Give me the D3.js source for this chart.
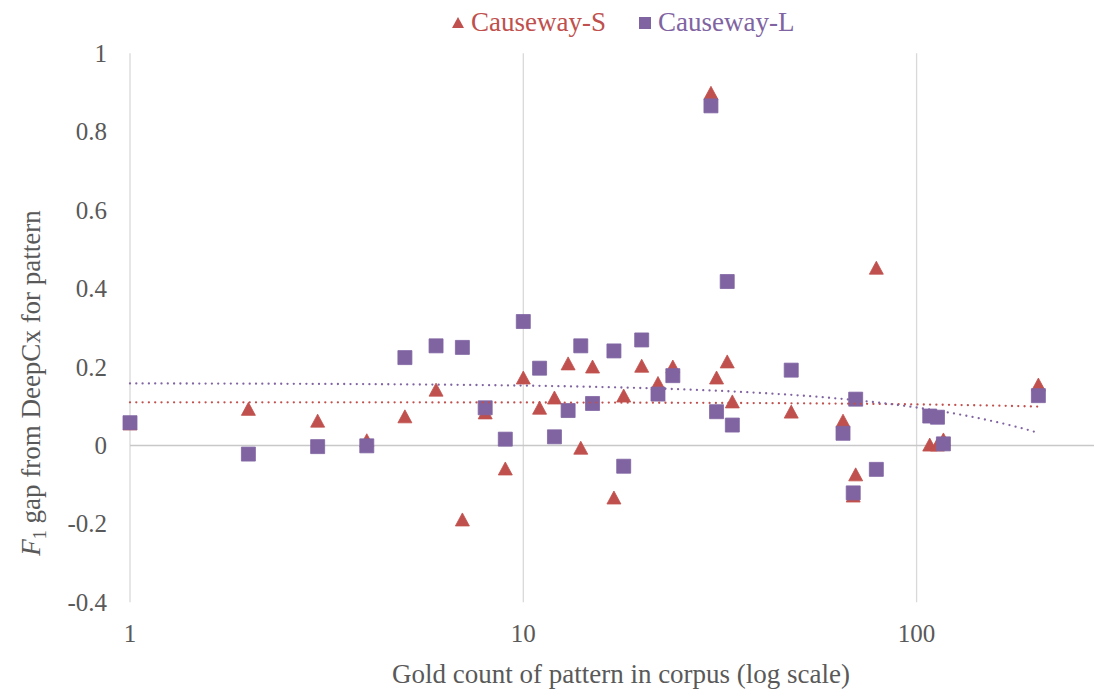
<!DOCTYPE html>
<html>
<head>
<meta charset="utf-8">
<script src="https://cdn.jsdelivr.net/npm/d3@7"></script>
<style>
  body { margin: 0; background: #fff; }
  svg text { font-family: "Liberation Serif", "Times New Roman", serif; fill: #595959; }
</style>
</head>
<body>
<div id="container"></div>
<script>
// gold counts (x) and F1 gaps (y)
var countsS = [1, 2, 3, 4, 5, 6, 7, 8, 9, 10, 11, 12, 13, 14, 15, 17, 18, 20, 22, 24,
               30, 31, 33, 34, 48, 65, 69, 70, 79, 108, 113, 117, 204];
var gapsS = [0.055, 0.092, 0.062, 0.012, 0.073, 0.141, -0.19, 0.083, -0.06, 0.172, 0.095, 0.121,
             0.208, -0.007, 0.2, -0.134, 0.126, 0.202, 0.158, 0.2,
             0.898, 0.172, 0.213, 0.111, 0.085, 0.062, -0.129, -0.075, 0.452, 0.001, 0.001, 0.014, 0.154];

var countsL = [1, 2, 3, 4, 5, 6, 7, 8, 9, 10, 11, 12, 13, 14, 15, 17, 18, 20, 22, 24,
               30, 31, 33, 34, 48, 65, 69, 70, 79, 108, 113, 117, 204];
var gapsL = [0.058, -0.022, -0.003, -0.001, 0.224, 0.254, 0.25, 0.096, 0.016, 0.316, 0.197, 0.022,
             0.089, 0.254, 0.107, 0.241, -0.053, 0.269, 0.131, 0.178,
             0.866, 0.086, 0.418, 0.052, 0.192, 0.031, -0.121, 0.118, -0.061, 0.075, 0.072, 0.004, 0.127];

var seriesNames = ["Causeway-S", "Causeway-L"];
var seriesColors = ["#C0504D", "#8064A2"];
var xTicks = [1, 10, 100];
var yTicks = [-0.4, -0.2, 0, 0.2, 0.4, 0.6, 0.8, 1];

var width = 1094, height = 689;

var svg = d3.select("#container")
  .append("svg")
  .attr("width", width)
  .attr("height", height);

// one decade is ~393px; the reference is cut off at the right edge
var x = d3.scaleLog().domain([1, 1000]).range([130, 130 + 3 * 393.3]);
var y = d3.scaleLinear().domain([-0.4, 1]).range([602.3, 53.3]);

// vertical gridlines
svg.append("g")
  .selectAll("line")
  .data(xTicks)
  .join("line")
  .attr("x1", function (d) { return x(d); })
  .attr("x2", function (d) { return x(d); })
  .attr("y1", y(1))
  .attr("y2", y(-0.4))
  .attr("stroke", "#d9d9d9")
  .attr("stroke-width", 1.3);

// horizontal axis at zero
svg.append("line")
  .attr("x1", x(1))
  .attr("x2", width)
  .attr("y1", y(0))
  .attr("y2", y(0))
  .attr("stroke", "#c8c8c8")
  .attr("stroke-width", 1.5);

// tick labels
svg.append("g")
  .selectAll("text")
  .data(yTicks)
  .join("text")
  .attr("x", 107)
  .attr("y", function (d) { return y(d) + 8.5; })
  .attr("text-anchor", "end")
  .style("font-size", "25px")
  .text(function (d) { return String(d); });

svg.append("g")
  .selectAll("text")
  .data(xTicks)
  .join("text")
  .attr("x", function (d) { return x(d); })
  .attr("y", 642)
  .attr("text-anchor", "middle")
  .style("font-size", "25px")
  .text(function (d) { return d; });

// axis titles
svg.append("text")
  .attr("x", 621)
  .attr("y", 683)
  .attr("text-anchor", "middle")
  .style("font-size", "27px")
  .text("Gold count of pattern in corpus (log scale)");

var yTitle = svg.append("text")
  .attr("transform", "translate(40,383) rotate(-90)")
  .attr("text-anchor", "middle")
  .style("font-size", "27px");
yTitle.append("tspan").style("font-style", "italic").text("F");
yTitle.append("tspan").attr("dy", 6).style("font-size", "18px").text("1");
yTitle.append("tspan").attr("dy", -6).text(" gap from DeepCx for pattern");

// linear (not log) least-squares trendlines, as in the spreadsheet
function linearFit(xs, ys) {
  var mx = d3.mean(xs), my = d3.mean(ys);
  var sxy = d3.sum(xs, function (v, i) { return (v - mx) * (ys[i] - my); });
  var sxx = d3.sum(xs, function (v) { return (v - mx) * (v - mx); });
  var b = sxy / sxx;
  return { a: my - b * mx, b: b };
}

var trendLine = d3.line()
  .x(function (d) { return x(d[0]); })
  .y(function (d) { return y(d[1]); });

function drawTrend(xs, ys, color) {
  var fit = linearFit(xs, ys);
  var lo = d3.min(xs), hi = d3.max(xs);
  var pts = d3.range(0, 101).map(function (i) {
    var v = lo * Math.pow(hi / lo, i / 100);
    return [v, fit.a + fit.b * v];
  });
  svg.append("path")
    .attr("d", trendLine(pts))
    .attr("fill", "none")
    .attr("stroke", color)
    .attr("stroke-width", 2.3)
    .attr("stroke-linecap", "round")
    .attr("stroke-dasharray", "0,6.3");
}

var triangle = "M0,-7L7,6L-7,6Z";
var square = "M-7,-7H7V7H-7Z";

function drawPoints(xs, ys, shape, color) {
  svg.append("g")
    .selectAll("path")
    .data(d3.zip(xs, ys))
    .join("path")
    .attr("d", shape)
    .attr("transform", function (d) { return "translate(" + x(d[0]) + "," + y(d[1]) + ")"; })
    .attr("fill", color)
    .attr("stroke", color)
    .attr("stroke-width", 0.8);
}

drawPoints(countsS, gapsS, triangle, seriesColors[0]);
drawPoints(countsL, gapsL, square, seriesColors[1]);
drawTrend(countsS, gapsS, seriesColors[0]);
drawTrend(countsL, gapsL, seriesColors[1]);

// legend
var legend = svg.append("g");
var legendX = [458, 645];
var legendShapes = ["M0,-6L6,5L-6,5Z", "M-6,-6H6V6H-6Z"];
seriesNames.forEach(function (name, i) {
  legend.append("path")
    .attr("d", legendShapes[i])
    .attr("transform", "translate(" + legendX[i] + ",23)")
    .attr("fill", seriesColors[i]);
  legend.append("text")
    .attr("x", legendX[i] + 13)
    .attr("y", 31)
    .style("font-size", "27px")
    .style("fill", seriesColors[i])
    .text(name);
});
</script>
</body>
</html>
